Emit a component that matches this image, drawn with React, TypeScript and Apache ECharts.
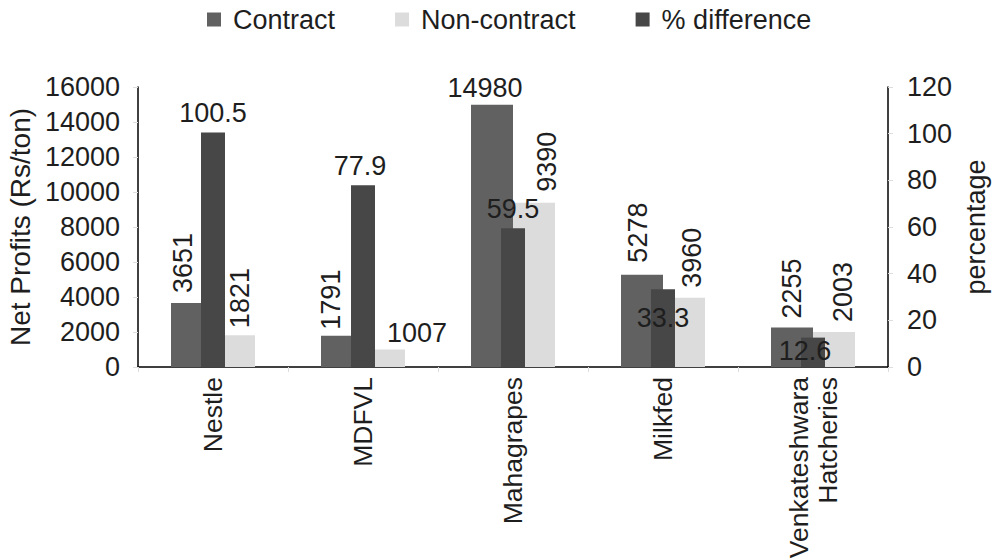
import React, { useEffect, useRef } from "react";
import * as echarts from "echarts";

const categories = ["Nestle", "MDFVL", "Mahagrapes", "Milkfed", "Venkateshwara\nHatcheries"];
const contract = [3651, 1791, 14980, 5278, 2255];
const nonContract = [1821, 1007, 9390, 3960, 2003];
const pctDiff = [100.5, 77.9, 59.5, 33.3, 12.6];
const leftTicks = [0, 16000, 2000];
const rightTicks = [0, 120, 20];

const FONT = "Liberation Sans, Arial, sans-serif";
const FS = 27;
const FSC = 26.5;
const FSN = 28;
const TXT = "#1e1e1e";

// rotated labels: offset is in the rotated frame, [along text, across text]
const rot = (dx: number, dist: number) => ({
  show: true,
  position: "top",
  rotate: 90,
  align: "left",
  verticalAlign: "middle",
  distance: dist,
  offset: [0, dx],
});

const contractLabels = [
  rot(-9, 10),
  rot(-11, 6),
  { show: true, position: "top", rotate: 0, distance: 3, offset: [-7, 0] },
  rot(-4, 12),
  rot(0, 9),
];
const nonContractLabels = [
  rot(6, 7),
  { show: true, position: "top", rotate: 0, distance: 3, offset: [33, 0] },
  rot(13, 11),
  rot(8, 10),
  rot(9, 10),
];
const pctLabels = [
  { show: true, position: "top", distance: 6 },
  { show: true, position: "top", distance: 6, offset: [-3, 0] },
  { show: true, position: "top", distance: 6 },
  { show: true, position: "insideTop", distance: 15 },
  { show: true, position: "insideTop", distance: 0, offset: [-8, 0] },
];

export default function App() {
  const ref = useRef<HTMLDivElement>(null);
  useEffect(() => {
    if (!ref.current) return;
    const chart = echarts.init(ref.current, undefined, { renderer: "svg" });
    const labelBase = { color: TXT, fontFamily: FONT, fontSize: FS };
    chart.setOption({
      animation: false,
      textStyle: { fontFamily: FONT },
      legend: {
        top: 1,
        left: 202,
        itemWidth: 14,
        itemHeight: 14,
        itemGap: 60,
        icon: "rect",
        textStyle: { fontFamily: FONT, fontSize: FS, color: TXT, padding: [0, 0, 0, 7] },
        data: ["Contract", "Non-contract", "% difference"],
      },
      grid: { left: 138, right: 104, top: 87, bottom: 193, containLabel: false, outerBoundsMode: "none" },
      xAxis: [
        {
          type: "category",
          data: categories,
          axisLine: { lineStyle: { color: "#000", width: 1.5 } },
          axisTick: { show: true, length: 5, lineStyle: { color: "#ddd" } },
          axisLabel: {
            rotate: 90,
            interval: 0,
            fontFamily: FONT,
            fontSize: FSC,
            color: TXT,
            margin: 10,
            lineHeight: 29,
            align: "right",
          },
        },
        { type: "category", data: categories, show: false },
      ],
      yAxis: [
        {
          type: "value",
          min: leftTicks[0],
          max: leftTicks[1],
          interval: leftTicks[2],
          name: "Net Profits (Rs/ton)",
          nameLocation: "middle",
          nameRotate: 90,
          nameGap: 98,
          nameTextStyle: { fontFamily: FONT, fontSize: FSN, color: TXT },
          axisLine: { show: true, lineStyle: { color: "#000", width: 1.5 } },
          axisTick: { show: true, length: 5, lineStyle: { color: "#ddd" } },
          axisLabel: {
            fontFamily: FONT,
            fontSize: FS,
            color: TXT,
            margin: 18,
            formatter: (v: number) => String(v),
          },
          splitLine: { show: false },
        },
        {
          type: "value",
          min: rightTicks[0],
          max: rightTicks[1],
          interval: rightTicks[2],
          position: "right",
          name: "percentage",
          nameLocation: "middle",
          nameRotate: 90,
          nameGap: 73,
          nameTextStyle: { fontFamily: FONT, fontSize: FS, color: TXT },
          axisLine: { show: true, lineStyle: { color: "#000", width: 1.5 } },
          axisTick: { show: true, length: 5, lineStyle: { color: "#ddd" } },
          axisLabel: {
            fontFamily: FONT,
            fontSize: FS,
            color: TXT,
            margin: 19,
            formatter: (v: number) => String(v),
          },
          splitLine: { show: false },
        },
      ],
      series: [
        {
          name: "Contract",
          type: "bar",
          xAxisIndex: 0,
          yAxisIndex: 0,
          barWidth: 42,
          barGap: "0%",
          itemStyle: { color: "#616161" },
          label: labelBase,
          data: contract.map((v, i) => ({ value: v, label: { ...labelBase, ...contractLabels[i] } })),
        },
        {
          name: "Non-contract",
          type: "bar",
          xAxisIndex: 0,
          yAxisIndex: 0,
          barWidth: 42,
          barGap: "0%",
          itemStyle: { color: "#dcdcdc" },
          label: labelBase,
          data: nonContract.map((v, i) => ({ value: v, label: { ...labelBase, ...nonContractLabels[i] } })),
        },
        {
          name: "% difference",
          type: "bar",
          xAxisIndex: 1,
          yAxisIndex: 1,
          barWidth: 24,
          z: 3,
          itemStyle: { color: "#474747" },
          label: labelBase,
          data: pctDiff.map((v, i) => ({ value: v, label: { ...labelBase, ...pctLabels[i] } })),
        },
      ],
    });
    return () => chart.dispose();
  }, []);
  return (
    <div
      ref={ref}
      style={{ position: "absolute", left: 0, top: 0, width: 992, height: 560 }}
    />
  );
}
